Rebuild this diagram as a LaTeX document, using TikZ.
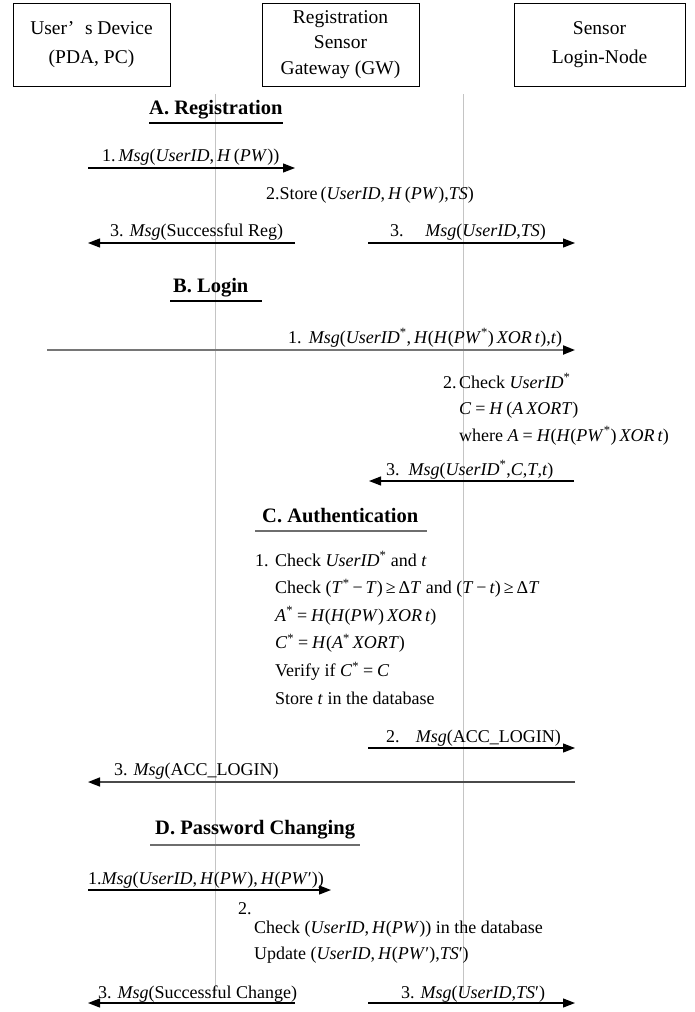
\documentclass[tikz,border=0pt]{standalone}
\usepackage{fontspec}
\setmainfont{Liberation Serif}
\usetikzlibrary{arrows.meta, positioning}
\definecolor{lifegray}{HTML}{C4C4C4}
\definecolor{arrgray}{HTML}{767676}
\definecolor{arrdark}{HTML}{4A4A4A}
\definecolor{rulegray}{HTML}{6E6E6E}
\newcommand{\mv}[1]{\textit{#1}}
\newcommand{\st}{\textsuperscript{*}}
\newcommand{\eqs}{\hspace{0.22em}=\hspace{0.22em}}
\tikzset{
  party/.style={rectangle, draw=black, line width=1pt, minimum width=157pt, minimum height=83pt,
    align=center, inner sep=0pt, font=\fontsize{19.5}{28.5}\selectfont},
  lifeline/.style={draw=lifegray, line width=0.9pt},
  msg/.style={-{Triangle[length=12pt, width=9pt, black]}, line width=1.2pt, black},
  phase/.style={anchor=base west, inner sep=0pt, font=\fontsize{20.5}{24}\selectfont\bfseries},
  phaseline/.style={line width=1.3pt, black},
  txt/.style={anchor=base west, inner sep=0pt, font=\fontsize{18}{22}\selectfont},
}

\begin{document}
\begin{tikzpicture}[x=1pt, y=-1pt]
    \useasboundingbox (0,0) rectangle (695,1012);
    % parties
    \node[party] (user) at (91.5,44.5) {User’\hspace{0.55em}s Device\\(PDA, PC)};
    \node[party, right=91pt of user, font=\fontsize{19.5}{25.5}\selectfont] (gw) {Registration\\Sensor\\Gateway (GW)};
    \node[party, right=94pt of gw, minimum width=171pt] (sn) {Sensor\\Login-Node};
    % lifelines
    \coordinate (l1top) at (215.5,94);
    \coordinate (l1bot) at (215.5,995);
    \coordinate (l2top) at (463,94);
    \coordinate (l2bot) at (463,995);
    \draw[lifeline] (l1top) -- (l1bot);
    \draw[lifeline] (l2top) -- (l2bot);

    % A. Registration
    \node[phase] (pA) at (149,114) {A. Registration};
    \draw[phaseline] (149,123) -- (283,123);
    \coordinate (uA1) at (88,168);
    \coordinate (gA1) at (295,168);
    \draw[msg] (uA1) -- (gA1);
    \node[txt] (mA1) at (102,161) {1.\,\mv{Msg}(\mv{UserID},\,\mv{H}\,(\mv{PW}))};
    \node[txt] (mA2) at (266,199) {2.Store\,(\mv{UserID},\,\mv{H}\,(\mv{PW}),\mv{TS})};
    \coordinate (gA3) at (295,243);
    \coordinate (uA3) at (88,243);
    \draw[msg] (gA3) -- (uA3);
    \node[txt] (mA3u) at (110,236) {3. \mv{Msg}(Successful Reg)};
    \coordinate (gA3s) at (368,243);
    \coordinate (sA3) at (575,243);
    \draw[msg] (gA3s) -- (sA3);
    \node[txt] (mA3s) at (390,236) {3.\hspace{1.2em}\mv{Msg}(\mv{UserID},\mv{TS})};

    % B. Login
    \node[phase] (pB) at (173,292) {B. Login};
    \draw[phaseline] (170,301) -- (262,301);
    \coordinate (uB1) at (47,350);
    \coordinate (sB1) at (575,350);
    \draw[msg, arrgray, line width=2pt] (uB1) -- (sB1);
    \node[txt] (mB1) at (288,343) {1.\hspace{0.4em}\mv{Msg}(\mv{UserID}\st,\,\mv{H}(\mv{H}(\mv{PW}\st)\,\mv{XOR}\,\mv{t}),\mv{t})};
    \node[txt] (nB2) at (443,388) {2.};
    \node[txt] (mB2a) at (459,388) {Check \mv{UserID}\st};
    \node[txt] (mB2b) at (459,414) {\mv{C}\eqs\mv{H}\,(\mv{A}\,\mv{XOR}\mv{T})};
    \node[txt] (mB2c) at (459,441) {where \mv{A}\eqs\mv{H}(\mv{H}(\mv{PW}\st)\,\mv{XOR}\,\mv{t})};
    \coordinate (sB3) at (574,481);
    \coordinate (gB3) at (369,481);
    \draw[msg] (sB3) -- (gB3);
    \node[txt] (mB3) at (386,475) {3.\hspace{0.5em}\mv{Msg}(\mv{UserID}\st,\mv{C},\mv{T},\mv{t})};

    % C. Authentication
    \node[phase] (pC) at (262,522) {C. Authentication};
    \draw[phaseline, rulegray, line width=2pt] (255,531) -- (427,531);
    \node[txt] (nC1) at (255,566) {1.};
    \foreach \ln [count=\i] in {
        {Check \mv{UserID}\st\ and \mv{t}},
        {Check (\mv{T}\st\,−\,\mv{T})\,≥\,Δ\mv{T} and (\mv{T}\,−\,\mv{t})\,≥\,Δ\mv{T}},
        {\mv{A}\st\eqs\mv{H}(\mv{H}(\mv{PW})\,\mv{XOR}\,\mv{t})},
        {\mv{C}\st\eqs\mv{H}(\mv{A}\st\,\mv{XOR}\mv{T})},
        {Verify if \mv{C}\st\eqs\mv{C}},
        {Store \mv{t} in the database}}
      \node[txt] (mC\i) at (275,{566+27.6*(\i-1)}) {\ln};
    \coordinate (gC2) at (368,748);
    \coordinate (sC2) at (575,748);
    \draw[msg] (gC2) -- (sC2);
    \node[txt] (mC2l) at (386,742) {2.\hspace{0.9em}\mv{Msg}(ACC\_LOGIN)};
    \coordinate (sC3) at (575,782);
    \coordinate (uC3) at (88,782);
    \draw[msg, arrdark, line width=1.6pt] (sC3) -- (uC3);
    \node[txt] (mC3l) at (114,775) {3. \mv{Msg}(ACC\_LOGIN)};

    % D. Password Changing
    \node[phase] (pD) at (155,834) {D. Password Changing};
    \draw[phaseline, rulegray, line width=2pt] (150,845) -- (360,845);
    \coordinate (uD1) at (88,890);
    \coordinate (gD1) at (331,890);
    \draw[msg] (uD1) -- (gD1);
    \node[txt] (mD1) at (88,884) {1.\mv{Msg}(\mv{UserID},\,\mv{H}(\mv{PW}),\,\mv{H}(\mv{PW}′))};
    \node[txt] (nD2) at (238,914) {2.};
    \node[txt] (mD2a) at (254,933) {Check (\mv{UserID},\,\mv{H}(\mv{PW})) in the database};
    \node[txt] (mD2b) at (254,959) {Update (\mv{UserID},\,\mv{H}(\mv{PW}′),\mv{TS}′)};
    \coordinate (gD3) at (295,1003);
    \coordinate (uD3) at (88,1003);
    \draw[msg] (gD3) -- (uD3);
    \node[txt] (mD3u) at (98,998) {3. \mv{Msg}(Successful Change)};
    \coordinate (gD3s) at (368,1003);
    \coordinate (sD3) at (575,1003);
    \draw[msg] (gD3s) -- (sD3);
    \node[txt] (mD3s) at (401,998) {3. \mv{Msg}(\mv{UserID},\mv{TS}′)};
\end{tikzpicture}
\end{document}
